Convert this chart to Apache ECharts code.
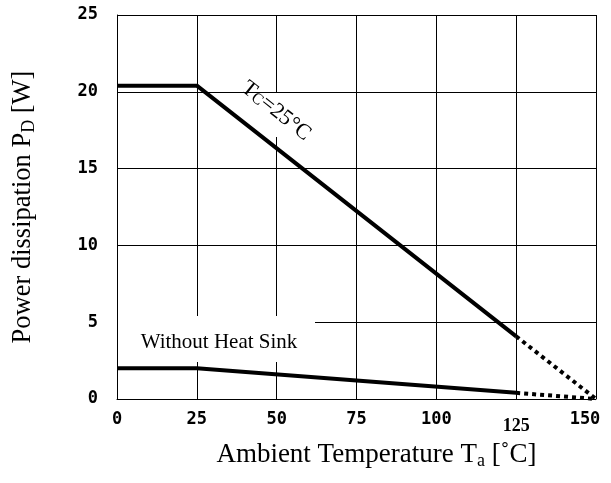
<!DOCTYPE html>
<html>
<head>
<meta charset="utf-8">
<script src="https://cdn.jsdelivr.net/npm/echarts@6/dist/echarts.min.js"></script>
<style>html,body{margin:0;padding:0;background:#fff}#c{width:611px;height:483px}</style>
</head>
<body>
<div id="c"></div>
<script>
// Data
const xTicks = [0, 25, 50, 75, 100, 125, 150];
const yTicks = [0, 5, 10, 15, 20, 25];
const tcSolid = [[0, 20.4], [25, 20.4], [125, 4.08]];
const tcDotted = [[125, 4.08], [150, 0]];
const noSinkSolid = [[0, 2.0], [25, 2.0], [125, 0.4]];
const noSinkDotted = [[125, 0.4], [150, 0]];

const chart = echarts.init(document.getElementById('c'), null, {renderer: 'canvas'});
const tickFont = {fontFamily: 'DejaVu Sans Mono', fontWeight: 'bold', fontSize: 17, color: '#000'};
const serif = 'Liberation Serif';
const lineSolid = {color: '#000', width: 4, type: 'solid'};
const lineDot = {color: '#000', width: 4, type: [4, 4], cap: 'butt'};

chart.setOption({
  backgroundColor: '#fff',
  animation: false,
  grid: {left: 117, right: 15, top: 15, bottom: 84, containLabel: false},
  xAxis: {
    type: 'value', min: 0, max: 150, interval: 25,
    axisLine: {show: true, lineStyle: {color: '#000', width: 1}},
    axisTick: {show: false},
    splitLine: {show: true, lineStyle: {color: '#000', width: 1}},
    axisLabel: {
      margin: 12,
      ...tickFont,
      formatter: v => v === 125 ? '{t|125}' : (v === 150 ? '{e|150}' : String(v)),
      rich: {
        t: {fontFamily: serif, fontWeight: 'bold', fontSize: 18, color: '#000', padding: [6, 0, 0, 0]},
        e: {...tickFont, padding: [0, 22, 0, 0]}
      }
    },
    name: '{n|Ambient Temperature T}{s|a}{n| [˚C]}',
    nameLocation: 'middle', nameGap: 41,
    nameTextStyle: {
      padding: [0, 0, 0, 40],
      rich: {
        n: {fontFamily: serif, fontSize: 27, color: '#000'},
        s: {fontFamily: serif, fontSize: 18, color: '#000', padding: [12, 0, 0, 0]}
      }
    }
  },
  yAxis: {
    type: 'value', min: 0, max: 25, interval: 5,
    axisLine: {show: true, lineStyle: {color: '#000', width: 1}},
    axisTick: {show: false},
    splitLine: {show: true, lineStyle: {color: '#000', width: 1}},
    axisLabel: {margin: 19, ...tickFont},
    name: '{n|Power dissipation P}{s|D}{n| [W]}',
    nameLocation: 'middle', nameGap: 79,
    nameTextStyle: {
      rich: {
        n: {fontFamily: serif, fontSize: 26.5, color: '#000'},
        s: {fontFamily: serif, fontSize: 18, color: '#000', padding: [12, 0, 0, 0]}
      }
    }
  },
  graphic: [
    {type: 'rect', z: 1, shape: {x: 118, y: 316, width: 197, height: 46}, style: {fill: '#fff'}},
    {type: 'text', z: 1, x: 219, y: 342, style: {text: 'Without Heat Sink', fontFamily: serif, fontSize: 21, fill: '#000', align: 'center', verticalAlign: 'middle'}},
    {type: 'rect', z: 1, shape: {x: 226, y: 93, width: 80, height: 44}, style: {fill: '#fff'}},
    {type: 'text', z: 1, x: 276, y: 111, rotation: -0.67, style: {
      text: '{a|T}{b|C}{a|=25°C}', align: 'center', verticalAlign: 'middle',
      rich: {a: {fontFamily: serif, fontSize: 22, fill: '#000'}, b: {fontFamily: serif, fontSize: 16, fill: '#000', padding: [5, 0, 0, 0]}}
    }}
  ],
  series: [
    {type: 'line', data: tcSolid, symbol: 'none', lineStyle: lineSolid, z: 3},
    {type: 'line', data: tcDotted, symbol: 'none', lineStyle: lineDot, z: 3},
    {type: 'line', data: noSinkSolid, symbol: 'none', lineStyle: lineSolid, z: 3},
    {type: 'line', data: noSinkDotted, symbol: 'none', lineStyle: lineDot, z: 3}
  ]
});
</script>
</body>
</html>
